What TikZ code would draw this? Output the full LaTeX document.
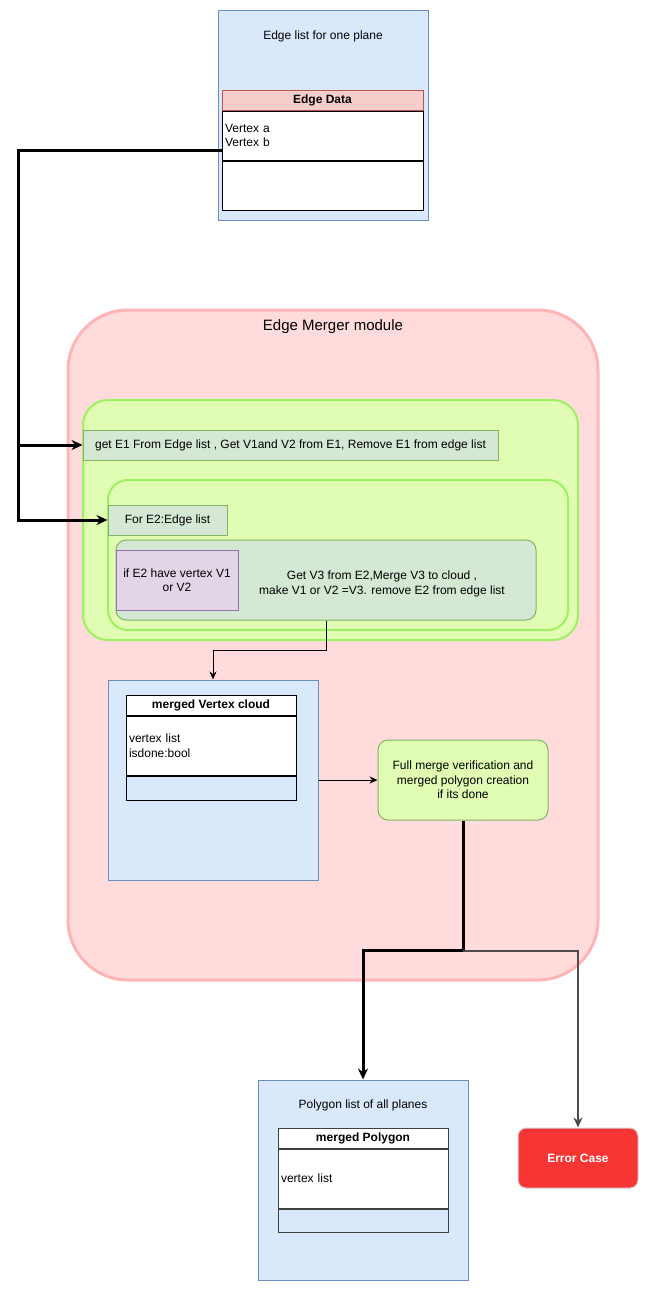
\documentclass[tikz,border=0pt]{standalone}
\usepackage{fontspec}
\setmainfont{Liberation Sans}
\usepackage{xcolor}
\usepackage{tikz}
\usetikzlibrary{arrows.meta, positioning}
\definecolor{panelblue}{HTML}{DAE8FC}
\definecolor{panelborder}{HTML}{6C8EBF}
\definecolor{headred}{HTML}{F8CECC}
\definecolor{headborder}{HTML}{B85450}
\definecolor{modulefill}{HTML}{FFDBDB}
\definecolor{moduleborder}{HTML}{FFB5B5}
\definecolor{loopfill}{HTML}{E1FDB3}
\definecolor{loopborder}{HTML}{9CF260}
\definecolor{stepfill}{HTML}{D5E8D4}
\definecolor{stepborder}{HTML}{82B366}
\definecolor{checkfill}{HTML}{E1D5E7}
\definecolor{checkborder}{HTML}{9673A6}
\definecolor{errorfill}{HTML}{F83535}

\begin{document}
\begin{tikzpicture}[
    x=1pt, y=-1pt,
    every node/.style={
    align=center,
    inner sep=0pt,
    font=\fontsize{12}{14.5}\selectfont},
    panel/.style={draw=panelborder, fill=panelblue, line width=1pt},
    tablehead/.style={draw=black, fill=white, line width=1pt, font=\fontsize{12}{14.5}\selectfont\bfseries},
    tablerow/.style={draw=black, fill=white, line width=1pt, align=left, inner xsep=3pt},
    tablefoot/.style={draw=black, line width=1pt},
    loopbox/.style={draw=loopborder, fill=loopfill, line width=2pt},
    stepbox/.style={draw=stepborder, fill=stepfill, line width=1pt},
    bus/.style={line width=3pt, -{Stealth[length=11pt, width=10pt]}},
    link/.style={line width=1pt, -{Stealth[length=8pt, width=7pt]}},
    >=Stealth]
    \useasboundingbox (0,0) rectangle (649,1291);
    \node[panel, minimum width=210, minimum height=210] (edgelist) at (323,115) {};
    \node[tablehead, draw=headborder, fill=headred, minimum width=201, minimum height=20] (edgehead) at (322.5,100) {Edge Data};
    \node[tablerow, text width=195, minimum height=49, below=0pt of edgehead] (edgebody) {Vertex a\\Vertex b};
    \node[tablefoot, fill=white, minimum width=201, minimum height=49, below=0pt of edgebody] (edgefoot) {};
    \node[draw=moduleborder, fill=modulefill, line width=3pt, rounded corners=60, minimum width=530, minimum height=670] (merger) at (333,645) {};
    \node[loopbox, rounded corners=25, minimum width=495, minimum height=240] (outerloop) at (330.5,520) {};
    \node[stepbox, minimum width=415, minimum height=30] (getbox) at (290.5,445) {get E1 From Edge list , Get V1and V2 from E1, Remove E1 from edge list};
    \node[loopbox, rounded corners=20, minimum width=460, minimum height=150] (innerloop) at (338,555) {};
    \node[stepbox, minimum width=119, minimum height=30] (forbox) at (167.5,520) {For E2:Edge list};
    \node[stepbox, rounded corners=10, minimum width=420, minimum height=80] (mergebody) at (326,580) {};
    \node[draw=checkborder, fill=checkfill, line width=1pt, minimum width=122, minimum height=60] (check) at (177,580) {if E2 have vertex V1\\or V2};
    \node[panel, minimum width=210, minimum height=200] (cloud) at (213,780) {};
    \node[tablehead, minimum width=170, minimum height=20] (cloudhead) at (211,705) {merged Vertex cloud};
    \node[tablerow, text width=164, minimum height=59, below=0pt of cloudhead] (cloudbody) {vertex list\\isdone:bool};
    \node[tablefoot, minimum width=170, minimum height=24, below=0pt of cloudbody] (cloudfoot) {};
    \node[draw=stepborder, fill=loopfill, line width=1pt, rounded corners=10, minimum width=170, minimum height=80] (verify) at (463,780) {Full merge verification and\\merged polygon creation\\if its done};
    \node[panel, minimum width=210, minimum height=200] (polylist) at (363,1180) {};
    \node[tablehead, draw=black!75, minimum width=170, minimum height=20] (polyhead) at (363,1138) {merged Polygon};
    \node[tablerow, draw=black!75, text width=164, minimum height=59, below=0pt of polyhead] (polybody) {vertex list};
    \node[tablefoot, draw=black!75, minimum width=170, minimum height=23, below=0pt of polybody] (polyfoot) {};
    \node[draw=gray!35, fill=errorfill, text=white, line width=1pt, rounded corners=8, minimum width=120, minimum height=60, font=\fontsize{12}{14.5}\selectfont\bfseries] (error) at (578,1158) {Error Case};
    \begin{scope}[
        every node/.style={
            align=center,
            font=\fontsize{12}{14.5}\selectfont}]
        \node (edgetitle) at (323,36) {Edge list for one plane};
        \node[font=\fontsize{15}{18}\selectfont] (mergertitle) at (333,327) {Edge Merger module};
        \node (mergetext) at (382,584) {Get V3 from E2,Merge V3 to cloud ,\\make V1 or V2 =V3. remove E2 from edge list};
        \node (polytitle) at (363,1105) {Polygon list of all planes};
    \end{scope}
    \coordinate (bend) at (18,150);
    \path (verify.south) ++(0,130) coordinate (split);
    \draw[bus] (edgebody.west |- bend) -- (bend) |- (forbox.west);
    \draw[bus] (bend |- getbox.west) -- (getbox.west);
    \draw[link] (mergebody.south) -- ++(0,30) -| (cloud.north);
    \draw[link] (cloud.east) -- (verify.west);
    \draw[bus] (verify.south) -- (split) -| (polylist.north);
    \draw[link, line width=2pt, black!70, -{Stealth[length=10pt, width=9pt, fill=black]}] (split) -| (error.north);
\end{tikzpicture}
\end{document}
